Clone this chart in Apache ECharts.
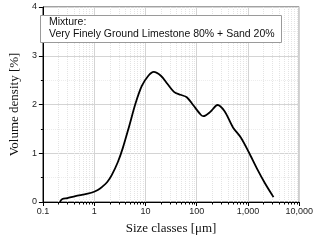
<!DOCTYPE html>
<html><head><meta charset="utf-8">
<script src="https://cdn.jsdelivr.net/npm/echarts@6/dist/echarts.min.js"></script>
<style>html,body{margin:0;padding:0;background:#fff}#c{width:316px;height:240px}</style>
</head><body><div id="c"></div>
<script>
// Size classes (µm) and volume density (%)
const sizes = [0.214, 0.24, 0.3, 0.43, 0.6, 0.75, 1.0, 1.2, 1.43, 1.8, 2.2, 2.9, 3.6, 4.8, 6.4, 8.5, 11.4, 14.5, 20, 27, 36, 48, 64, 85, 120, 135, 185, 255, 350, 510, 730, 1040, 1490, 2130, 3150];
const density = [0, 0.06, 0.08, 0.12, 0.15, 0.17, 0.21, 0.25, 0.31, 0.41, 0.55, 0.82, 1.1, 1.55, 2.02, 2.38, 2.59, 2.67, 2.59, 2.42, 2.26, 2.2, 2.15, 1.99, 1.79, 1.76, 1.85, 1.99, 1.86, 1.53, 1.32, 1.02, 0.69, 0.39, 0.10];
const xTickLabels = ['0.1', '1', '10', '100', '1,000', '10,000'];
const yTickLabels = ['0', '1', '2', '3', '4'];
const xMinorTicks = [0.2,0.3,0.4,0.5,0.6,0.7,0.8,0.9, 2,3,4,5,6,7,8,9, 20,30,40,50,60,70,80,90, 200,300,400,500,600,700,800,900, 2000,3000,4000,5000,6000,7000,8000,9000];
const legendLines = ['Mixture:', 'Very Finely Ground Limestone 80% + Sand 20%'];

const chart = echarts.init(document.getElementById('c'), null, {renderer: 'canvas'});
const sans = 'Arial, "Liberation Sans", sans-serif';
const serif = '"Times New Roman", "Liberation Serif", serif';
const xLabelMap = {};
[0.1, 1, 10, 100, 1000, 10000].forEach((v, i) => xLabelMap[v] = xTickLabels[i]);

chart.setOption({
  animation: false,
  grid: {left: 33, right: 14, top: 7, bottom: 34, show: true, borderColor: '#444', borderWidth: 1, backgroundColor: '#fff'},
  xAxis: {
    type: 'log', logBase: 10, min: 0.1, max: 10000,
    name: 'Size classes [μm]', nameLocation: 'middle', nameGap: 20,
    nameTextStyle: {fontFamily: serif, fontSize: 13, color: '#111'},
    axisLine: {show: true, lineStyle: {color: '#000', width: 1}},
    axisTick: {show: true, inside: false, length: 4, lineStyle: {color: '#000'}},
    axisLabel: {fontFamily: sans, fontSize: 9, color: '#222', margin: 5,
      formatter: v => { const k = Object.keys(xLabelMap).find(key => Math.abs(Math.log10(+key) - Math.log10(v)) < 1e-6); return k ? xLabelMap[k] : ''; }},
    splitLine: {show: true, lineStyle: {color: '#d4d4d4', width: 1}}
  },
  yAxis: {
    type: 'value', min: 0, max: 4, interval: 1,
    name: 'Volume density [%]', nameLocation: 'middle', nameGap: 20,
    nameTextStyle: {fontFamily: serif, fontSize: 13, color: '#111'},
    axisLine: {show: true, lineStyle: {color: '#000', width: 1}},
    axisTick: {show: true, inside: false, length: 4, lineStyle: {color: '#000'}},
    minorTick: {show: true, splitNumber: 2, length: 2, lineStyle: {color: '#000'}},
    axisLabel: {fontFamily: sans, fontSize: 9, color: '#222', margin: 6, formatter: v => yTickLabels[Math.round(v)]},
    splitLine: {show: true, lineStyle: {color: '#d4d4d4', width: 1}},
    minorSplitLine: {show: true, lineStyle: {color: '#ececec', width: 1, type: [1, 1]}}
  },
  graphic: [
    {type: 'rect', left: 40, top: 15, shape: {width: 241, height: 27}, style: {fill: '#fff', stroke: '#9a9a9a', lineWidth: 1}, z: 100},
    {type: 'text', left: 49, top: 17, style: {text: legendLines[0], font: '10.5px ' + sans, fill: '#111'}, z: 101},
    {type: 'text', left: 49, top: 29, style: {text: legendLines[1], font: '10.5px ' + sans, fill: '#111'}, z: 101}
  ],
  series: [
    {
      type: 'custom', coordinateSystem: 'cartesian2d', clip: false, silent: true, z: 1,
      data: xMinorTicks.map(v => [v, 0]),
      renderItem: (params, api) => {
        const p = api.coord([api.value(0), 0]);
        const t = api.coord([api.value(0), 4]);
        return {type: 'group', children: [
          {type: 'line', shape: {x1: Math.round(p[0]) + 0.5, y1: t[1], x2: Math.round(p[0]) + 0.5, y2: p[1]}, style: {stroke: '#e4e4e4', lineWidth: 1, lineDash: [1, 1]}},
          {type: 'line', shape: {x1: Math.round(p[0]) + 0.5, y1: p[1], x2: Math.round(p[0]) + 0.5, y2: p[1] + 2.5}, style: {stroke: '#000', lineWidth: 1}}
        ]};
      }
    },
    {
      type: 'line', data: sizes.map((s, i) => [s, density[i]]),
      smooth: 0.3, showSymbol: false, z: 5,
      lineStyle: {color: '#000', width: 1.8}
    }
  ]
});
</script></body></html>
